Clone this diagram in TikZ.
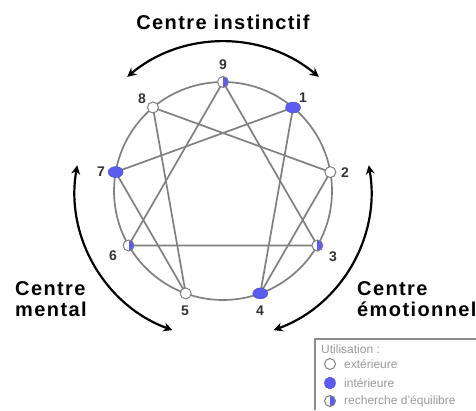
\documentclass[tikz,border=0pt]{standalone}
\usepackage{fontspec}
\setmainfont{Liberation Sans}
\usetikzlibrary{arrows.meta,shapes.geometric}
\definecolor{ennblue}{RGB}{92,92,240}
\definecolor{ennline}{RGB}{128,128,128}

\begin{document}
\begin{tikzpicture}[x=1pt, y=1pt,
    ligne/.style={draw=ennline, line width=1.7pt},
    fleche/.style={line width=2.2pt, {Stealth[length=9pt,width=9pt]}-{Stealth[length=9pt,width=9pt]}},
    centre/.style={font=\fontsize{20}{21}\selectfont\bfseries\addfontfeature{LetterSpace=7}, align=left, inner sep=0pt},
    chiffre/.style={font=\fontsize{14}{14}\selectfont\bfseries, text=black!80, inner sep=0pt},
    exterieur/.style={circle, draw=ennline, fill=white, line width=1pt, minimum size=11pt, inner sep=0pt},
    interieur/.style={ellipse, draw=ennblue!80!black, fill=ennblue, minimum width=15pt, minimum height=11pt, inner sep=0pt},
    equilibre/.style={exterieur, path picture={\fill[ennblue] (path picture bounding box.north) rectangle (path picture bounding box.south east);}},
    legende/.style={font=\fontsize{12}{12}\selectfont, text=black!40, anchor=west, inner sep=0pt}]
    \useasboundingbox (0,0) rectangle (476,-410);
    \coordinate (O) at (223,-191);
    \draw[ligne] (O) circle (109);
    \foreach \k in {1,...,9} {
        \coordinate (p\k) at ([shift={({90-40*\k}:109)}]O);
    }

    % triangle et hexade
    \draw[ligne] (p9) -- (p3) -- (p6) -- cycle;
    \draw[ligne] (p1) -- (p4) -- (p2) -- (p8) -- (p5) -- (p7) -- cycle;

    \foreach \k/\type in {1/interieur, 2/exterieur, 3/equilibre, 4/interieur, 5/exterieur,
                          6/equilibre, 7/interieur, 8/exterieur, 9/equilibre} {
        \node[\type] (n\k) at (p\k) {};
    }
    \foreach \k/\x/\y in {9/223/65, 1/303/98, 2/345/173, 3/333/257, 4/260/311,
                          5/185/311, 6/113/256, 7/101/172, 8/142/99} {
        \node[chiffre] (l\k) at (\x,-\y) {\k};
    }

    % les trois centres
    \draw[fleche] ([shift={(130:149)}]O) arc (130:50:149);
    \draw[fleche] ([shift={(170:148)}]O) arc (170:250:148);
    \draw[fleche] ([shift={(290:148)}]O) arc (290:370:148);
    \node[centre] (instinct) at (223,-22) {Centre instinctif};
    \node[centre, anchor=west] (mental) at (15,-299) {Centre\\mental};
    \node[centre, anchor=west] (emotion) at (357,-299) {Centre\\émotionnel};

    % Legende
    \draw[draw=black!45, line width=1.5pt] (476,-339) -- (315,-339) -- (315,-410);
    \node[legende] (utilisation) at (321,-349) {Utilisation :};
    \node[exterieur, minimum size=11pt] (m1) at (330,-364) {};
    \node[interieur, minimum width=11pt, minimum height=12pt] (m2) at (330,-383) {};
    \node[equilibre, minimum size=11pt] (m3) at (330,-401) {};
    \node[legende] (t1) at (344,-364) {extérieure};
    \node[legende] (t2) at (344,-383) {intérieure};
    \node[legende] (t3) at (344,-401) {recherche d'équilibre};
\end{tikzpicture}
\end{document}
